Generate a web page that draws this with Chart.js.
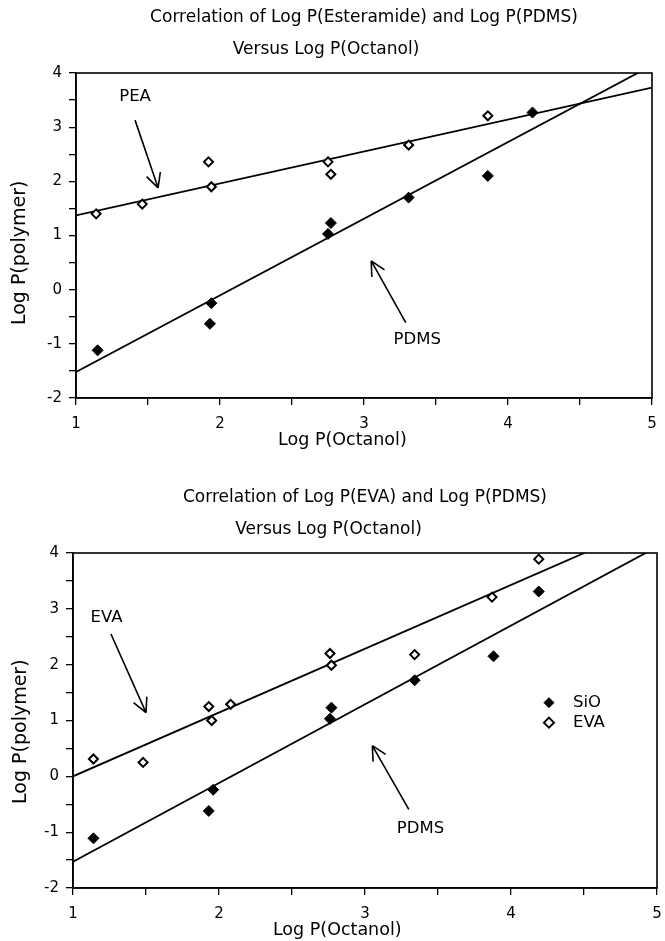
<!DOCTYPE html>
<html lang="en">
<head>
<meta charset="UTF-8" />
<title>Log P correlations</title>
<script src="https://cdn.jsdelivr.net/npm/chart.js"></script>
<style>
  html, body { margin: 0; padding: 0; background: #fff; }
  .panel { position: absolute; left: 0; width: 665px; }
  #topPanel { top: 0; height: 480px; }
  #bottomPanel { top: 480px; height: 461px; }
</style>
</head>
<body>
<div class="panel" id="topPanel"><canvas id="peaChart"></canvas></div>
<div class="panel" id="bottomPanel"><canvas id="evaChart"></canvas></div>

<script>
// values
const xTicks = [1, 2, 3, 4, 5];
const yTicks = [-2, -1, 0, 1, 2, 3, 4];
const fitX = [1, 5];

// top panel: esteramide (PEA) and PDMS
const peaX = [1.14, 1.46, 1.92, 1.94, 2.75, 2.77, 3.31, 3.86];
const peaY = [1.40, 1.58, 2.36, 1.90, 2.36, 2.13, 2.67, 3.21];
const pdmsTopX = [1.15, 1.94, 1.93, 2.77, 2.75, 3.31, 3.86, 4.17];
const pdmsTopY = [-1.12, -0.25, -0.63, 1.23, 1.03, 1.70, 2.10, 3.27];
const peaFit = [1.37, 3.73];
const pdmsTopFit = [-1.52, 4.14];

// bottom panel: EVA and PDMS (SiO)
const evaX = [1.14, 1.48, 1.93, 1.95, 2.08, 2.76, 2.77, 3.34, 3.87, 4.19];
const evaY = [0.31, 0.25, 1.25, 1.00, 1.29, 2.20, 1.99, 2.18, 3.21, 3.89];
const sioX = [1.14, 1.96, 1.93, 2.77, 2.76, 3.34, 3.88, 4.19];
const sioY = [-1.11, -0.24, -0.62, 1.23, 1.03, 1.72, 2.15, 3.31];
const evaFit = [0.00, 4.57];
const sioFit = [-1.53, 4.11];

const FONT = "'DejaVu Sans', sans-serif";
Chart.defaults.font.family = FONT;
Chart.defaults.font.size = 15;
Chart.defaults.color = '#000';

const pts = (xs, ys) => xs.map((v, i) => ({ x: v, y: ys[i] }));

const openStyle = { pointStyle: 'rectRot', pointRadius: 4.5, backgroundColor: '#fff', borderColor: '#000', borderWidth: 2 };
const fillStyle = { pointStyle: 'rectRot', pointRadius: 5.5, backgroundColor: '#000', borderColor: '#000', borderWidth: 1 };
const fitStyle = { type: 'line', borderColor: '#000', borderWidth: 1.8, pointRadius: 0, fill: false };

// frame, axis titles, arrows, labels and the in-plot legend
const notes = {
  id: 'notes',
  afterDatasetsDraw(chart, args, o) {
    const { ctx, chartArea: a, scales: { x, y } } = chart;
    const px = p => [x.getPixelForValue(p[0]), y.getPixelForValue(p[1])];
    ctx.save();
    ctx.strokeStyle = '#000';
    ctx.fillStyle = '#000';
    ctx.lineWidth = 1.6;
    ctx.strokeRect(a.left, a.top, a.width, a.height);

    ctx.textAlign = 'center';
    ctx.textBaseline = 'middle';
    // axis titles
    ctx.font = "17.5px " + FONT;
    ctx.fillText(o.xTitle.text, x.getPixelForValue(o.xTitle.at), a.bottom + 42);
    ctx.save();
    ctx.translate(a.left + o.yTitle.dx, y.getPixelForValue(o.yTitle.at));
    ctx.rotate(-Math.PI / 2);
    ctx.font = "19px " + FONT;
    ctx.fillText(o.yTitle.text, 0, 0);
    ctx.restore();

    ctx.lineWidth = 1.6;
    (o.arrows || []).forEach(ar => {
      const [x0, y0] = px(ar.from), [x1, y1] = px(ar.to);
      const ang = Math.atan2(y1 - y0, x1 - x0);
      ctx.beginPath();
      ctx.moveTo(x0, y0);
      ctx.lineTo(x1, y1);
      [-0.47, 0.47].forEach(d => {
        ctx.moveTo(x1, y1);
        ctx.lineTo(x1 - 16 * Math.cos(ang + d), y1 - 16 * Math.sin(ang + d));
      });
      ctx.stroke();
    });

    ctx.font = "16.5px " + FONT;
    (o.labels || []).forEach(l => {
      const [lx, ly] = px(l.at);
      ctx.fillText(l.text, lx, ly);
    });

    if (o.legend) {
      const [lx, ly] = px(o.legend.at);
      o.legend.items.forEach((it, i) => {
        const cy = ly + i * 20;
        ctx.beginPath();
        ctx.moveTo(lx - 5, cy); ctx.lineTo(lx, cy - 5); ctx.lineTo(lx + 5, cy); ctx.lineTo(lx, cy + 5);
        ctx.closePath();
        ctx.fillStyle = it.filled ? '#000' : '#fff';
        ctx.fill();
        ctx.lineWidth = it.filled ? 1 : 2;
        ctx.stroke();
        ctx.fillStyle = '#000';
        ctx.textAlign = 'left';
        ctx.fillText(it.text, lx + 24, cy);
      });
    }
    ctx.restore();
  }
};

function makeScales(yWidth, xHeight) {
  const grid = { drawOnChartArea: false, color: '#000', tickColor: '#000', tickLength: 7, lineWidth: 1.3 };
  return {
    x: {
      type: 'linear', min: 1, max: 5,
      grid: grid,
      border: { color: '#000', width: 1.6 },
      // small padding keeps the right edge in place; lineHeight pushes labels down
      ticks: { stepSize: 0.5, padding: 3, autoSkip: false, maxRotation: 0,
               font: { size: 15, lineHeight: 2.1 },
               callback: v => xTicks.includes(v) ? String(v) : '' },
      afterFit: s => { s.height = xHeight; }
    },
    y: {
      type: 'linear', min: -2, max: 4,
      grid: grid,
      border: { color: '#000', width: 1.6 },
      ticks: { stepSize: 0.5, padding: 7, autoSkip: false,
               callback: v => yTicks.includes(v) ? String(v) : '' },
      afterFit: s => { s.width = yWidth; }
    }
  };
}

function makeTitles(main) {
  return {
    title: { display: true, text: main, fullSize: false, font: { size: 17, weight: 'normal' }, color: '#000',
             padding: { top: 7.8, bottom: 11.6 } },
    subtitle: { display: true, text: 'Versus Log P(Octanol)', font: { size: 17 }, color: '#000',
                padding: { top: 0, bottom: 12.8 } },
    legend: { display: false },
    tooltip: { enabled: false }
  };
}

new Chart(document.getElementById('peaChart'), {
  type: 'scatter',
  data: {
    datasets: [
      { label: 'PEA', data: pts(peaX, peaY), ...openStyle },
      { label: 'PDMS', data: pts(pdmsTopX, pdmsTopY), ...fillStyle },
      { label: 'PEA fit', data: pts(fitX, peaFit), ...fitStyle },
      { label: 'PDMS fit', data: pts(fitX, pdmsTopFit), ...fitStyle }
    ]
  },
  options: {
    responsive: true,
    maintainAspectRatio: false,
    animation: false,
    layout: { padding: { left: 0, right: 13, top: 0, bottom: 0 } },
    scales: makeScales(76, 82),
    plugins: Object.assign(makeTitles('Correlation of Log P(Esteramide) and Log P(PDMS)'), {
      notes: {
        xTitle: { text: 'Log P(Octanol)', at: 2.85 },
        yTitle: { text: 'Log P(polymer)', at: 0.68, dx: -56 },
        arrows: [
          { from: [1.41, 3.13], to: [1.57, 1.88] },
          { from: [3.29, -0.61], to: [3.05, 0.53] }
        ],
        labels: [
          { text: 'PEA', at: [1.41, 3.56] },
          { text: 'PDMS', at: [3.37, -0.93] }
        ]
      }
    })
  },
  plugins: [notes]
});

new Chart(document.getElementById('evaChart'), {
  type: 'scatter',
  data: {
    datasets: [
      { label: 'SiO', data: pts(sioX, sioY), ...fillStyle },
      { label: 'EVA', data: pts(evaX, evaY), ...openStyle },
      { label: 'EVA fit', data: pts(fitX, evaFit), ...fitStyle },
      { label: 'SiO fit', data: pts(fitX, sioFit), ...fitStyle }
    ]
  },
  options: {
    responsive: true,
    maintainAspectRatio: false,
    animation: false,
    layout: { padding: { left: 0, right: 8, top: 0, bottom: 0 } },
    scales: makeScales(73, 53),
    plugins: Object.assign(makeTitles('Correlation of Log P(EVA) and Log P(PDMS)'), {
      notes: {
        xTitle: { text: 'Log P(Octanol)', at: 2.81 },
        yTitle: { text: 'Log P(polymer)', at: 0.80, dx: -52 },
        arrows: [
          { from: [1.26, 2.55], to: [1.50, 1.14] },
          { from: [3.30, -0.59], to: [3.05, 0.55] }
        ],
        labels: [
          { text: 'EVA', at: [1.23, 2.84] },
          { text: 'PDMS', at: [3.38, -0.93] }
        ],
        legend: {
          at: [4.26, 1.32],
          items: [{ text: 'SiO', filled: true }, { text: 'EVA', filled: false }]
        }
      }
    })
  },
  plugins: [notes]
});
</script>
</body>
</html>
